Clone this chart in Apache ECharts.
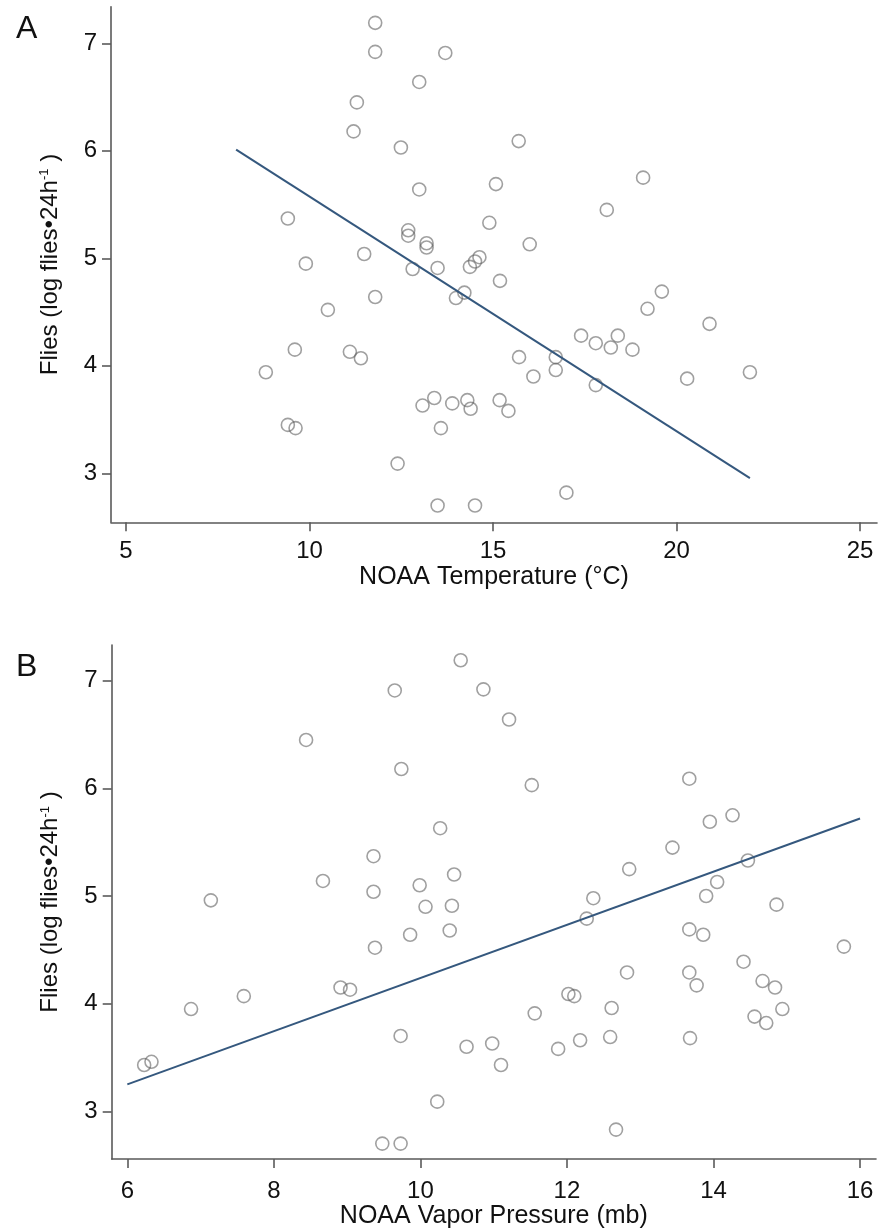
<!DOCTYPE html>
<html>
<head>
<meta charset="utf-8">
<script src="https://cdn.jsdelivr.net/npm/echarts@6/dist/echarts.min.js"></script>
<style>
html,body{margin:0;padding:0;background:#fff;}
#chart{width:879px;height:1232px;}
</style>
</head>
<body>
<div id="chart"></div>
<script>
// Panel A: NOAA temperature (°C) vs flies (log flies/24h)
const tempA = [11.79,11.79,13.70,12.99,11.29,11.20,12.49,15.70,19.09,15.08,12.99,18.10,9.41,14.90,12.69,12.69,13.19,13.19,16.00,11.49,9.90,12.81,13.49,14.37,14.51,14.63,15.19,11.79,10.50,13.99,14.22,19.60,19.21,20.90,17.40,18.40,17.80,18.21,18.80,9.60,11.10,11.40,15.71,16.71,16.71,16.10,8.81,22.00,20.29,17.80,13.40,13.08,13.89,14.30,14.39,15.18,15.42,13.58,9.41,9.62,12.40,13.49,14.51,17.00];
const fliesA = [7.19,6.92,6.91,6.64,6.45,6.18,6.03,6.09,5.75,5.69,5.64,5.45,5.37,5.33,5.26,5.21,5.14,5.10,5.13,5.04,4.95,4.90,4.91,4.92,4.97,5.01,4.79,4.64,4.52,4.63,4.68,4.69,4.53,4.39,4.28,4.28,4.21,4.17,4.15,4.15,4.13,4.07,4.08,4.08,3.96,3.90,3.94,3.94,3.88,3.82,3.70,3.63,3.65,3.68,3.60,3.68,3.58,3.42,3.45,3.42,3.09,2.70,2.70,2.82];
const fitA = [[8, 6.01], [22, 2.955]];

// Panel B: NOAA vapor pressure (mb) vs flies
const vaporB = [10.55,9.65,10.86,11.21,8.44,9.74,11.52,13.67,14.26,13.95,10.27,13.44,9.36,14.47,12.85,10.46,8.67,14.05,9.99,9.36,13.90,12.36,7.14,14.86,10.07,10.43,12.27,13.67,10.40,9.86,13.86,15.78,9.38,14.41,12.82,13.67,14.67,13.77,14.84,8.91,9.04,12.02,12.10,7.59,12.61,14.94,6.87,11.56,14.56,14.72,9.73,12.59,13.68,12.18,10.98,10.63,11.88,6.33,6.23,11.10,10.23,9.48,9.73,12.67];
const fliesB = [7.19,6.91,6.92,6.64,6.45,6.18,6.03,6.09,5.75,5.69,5.63,5.45,5.37,5.33,5.25,5.20,5.14,5.13,5.10,5.04,5.00,4.98,4.96,4.92,4.90,4.91,4.79,4.69,4.68,4.64,4.64,4.53,4.52,4.39,4.29,4.29,4.21,4.17,4.15,4.15,4.13,4.09,4.07,4.07,3.96,3.95,3.95,3.91,3.88,3.82,3.70,3.69,3.68,3.66,3.63,3.60,3.58,3.46,3.43,3.43,3.09,2.70,2.70,2.83];
const fitB = [[6, 3.25], [16, 5.72]];

// Tick labels
const ticksAX = [5, 10, 15, 20, 25];
const ticksBX = [6, 8, 10, 12, 14, 16];
const ticksY = [3, 4, 5, 6, 7];

const FONT = "'Liberation Sans', Arial, sans-serif";
const TXT = '#111';
const AX = '#5a5a5a';
const pts = (xs, ys) => xs.map((x, i) => [x, ys[i]]);

function xAxisOf(grid, min, max, ticks, name, margin, gap) {
  return {
    type: 'value', gridIndex: grid, min: min, max: max,
    name: name, nameLocation: 'middle', nameGap: gap,
    nameTextStyle: {fontSize: 25, color: TXT, fontFamily: FONT},
    axisLine: {show: true, onZero: false, lineStyle: {color: AX, width: 1.6}},
    axisTick: {show: true, length: 9, customValues: ticks, lineStyle: {color: AX, width: 1.6}},
    axisLabel: {customValues: ticks, fontSize: 24, color: TXT, fontFamily: FONT, margin: margin},
    splitLine: {show: false}
  };
}
function yAxisOf(grid, min, max) {
  return {
    type: 'value', gridIndex: grid, min: min, max: max,
    name: '{m|Flies (log flies•24h}{s|-1}{m| )}',
    nameLocation: 'middle', nameGap: 49, nameRotate: 90,
    nameTextStyle: {fontSize: 24, color: TXT, fontFamily: FONT,
      rich: {m: {fontSize: 24, color: TXT, fontFamily: FONT},
             s: {fontSize: 13, color: TXT, fontFamily: FONT, verticalAlign: 'top'}}},
    axisLine: {show: true, onZero: false, lineStyle: {color: AX, width: 1.6}},
    axisTick: {show: true, length: 9, customValues: ticksY, lineStyle: {color: AX, width: 1.6}},
    axisLabel: {customValues: ticksY, fontSize: 24, color: TXT, fontFamily: FONT, margin: 14},
    splitLine: {show: false}
  };
}
const scatterStyle = {color: 'rgba(0,0,0,0)', borderColor: 'rgba(90,90,90,0.72)', borderWidth: 1.6};
const lineStyle = {color: '#35587e', width: 2};

const option = {
  animation: false,
  backgroundColor: '#fff',
  title: [
    {text: 'A', left: 11, top: 8, textStyle: {fontSize: 32, fontWeight: 'normal', color: TXT, fontFamily: FONT}},
    {text: 'B', left: 11, top: 646, textStyle: {fontSize: 32, fontWeight: 'normal', color: TXT, fontFamily: FONT}}
  ],
  grid: [
    {left: 111, top: 6.7, width: 766, height: 515.6, outerBoundsMode: 'none', containLabel: false},
    {left: 111.7, top: 645, width: 764.3, height: 514, outerBoundsMode: 'none', containLabel: false}
  ],
  xAxis: [
    xAxisOf(0, 4.591, 25.463, ticksAX, 'NOAA Temperature (°C)', 17, 41),
    xAxisOf(1, 5.787, 16.218, ticksBX, 'NOAA Vapor Pressure (mb)', 20, 42.5)
  ],
  yAxis: [
    yAxisOf(0, 2.544, 7.340),
    yAxisOf(1, 2.557, 7.332)
  ],
  series: [
    {type: 'scatter', xAxisIndex: 0, yAxisIndex: 0, symbol: 'circle', symbolSize: 13,
     itemStyle: scatterStyle, data: pts(tempA, fliesA), silent: true},
    {type: 'line', xAxisIndex: 0, yAxisIndex: 0, showSymbol: false, symbol: 'none',
     lineStyle: lineStyle, data: fitA, silent: true},
    {type: 'scatter', xAxisIndex: 1, yAxisIndex: 1, symbol: 'circle', symbolSize: 13,
     itemStyle: scatterStyle, data: pts(vaporB, fliesB), silent: true},
    {type: 'line', xAxisIndex: 1, yAxisIndex: 1, showSymbol: false, symbol: 'none',
     lineStyle: lineStyle, data: fitB, silent: true}
  ]
};
const chart = echarts.init(document.getElementById('chart'), null, {renderer: 'canvas'});
chart.setOption(option);
</script>
</body>
</html>
